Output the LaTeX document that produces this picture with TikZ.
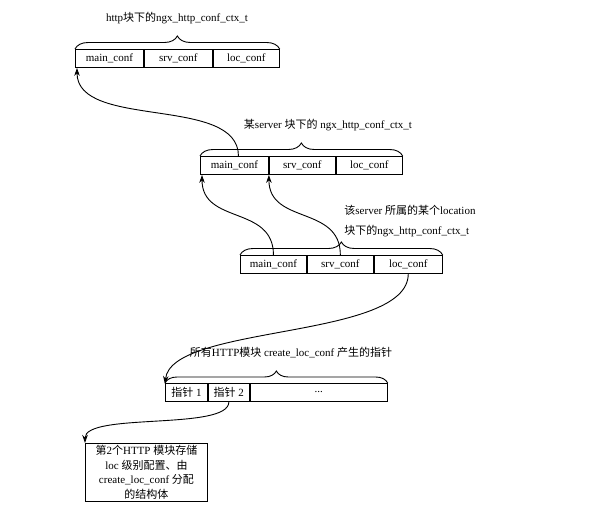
\documentclass[tikz,border=0pt]{standalone}
\usepackage{fontspec}
\setmainfont{Liberation Serif}
\newfontfamily\cjk{Noto Sans CJK SC}
\usetikzlibrary{
    arrows.meta,
    positioning,
    decorations.pathreplacing
}

\tikzset{
    cell/.style={draw, minimum height=18pt, inner sep=0pt, anchor=north west,
        font=\fontsize{11}{12}\selectfont},
    bracetop/.style={decorate, decoration={brace, amplitude=13pt}},
    ptr/.style={-{Stealth[length=8pt, width=5.5pt]}},
    lbl/.style={inner sep=1pt, font=\fontsize{11}{12}\selectfont}
}

\begin{document}
\begin{tikzpicture}[x=1pt, y=-1pt, line width=0.9pt]
    \useasboundingbox (0,0) rectangle (594,508);

    % http block
    \node[lbl] (httplbl) at (177,18) {http{\cjk 块下的}ngx\_http\_conf\_ctx\_t};
    \node[cell, minimum width=68pt] (hmain) at (75,49) {main\_conf};
    \node[cell, minimum width=68pt, right=0pt of hmain] (hsrv) {srv\_conf};
    \node[cell, minimum width=66pt, right=0pt of hsrv] (hloc) {loc\_conf};
    \draw[bracetop] (hmain.north west) -- (hloc.north east);

    % server block
    \node[lbl] (srvlbl) at (328,125) {{\cjk 某}server {\cjk 块下的} ngx\_http\_conf\_ctx\_t};
    \node[cell, minimum width=68pt] (smain) at (200,156) {main\_conf};
    \node[cell, minimum width=66pt, right=0pt of smain] (ssrv) {srv\_conf};
    \node[cell, minimum width=66pt, right=0pt of ssrv] (sloc) {loc\_conf};
    \draw[bracetop] (smain.north west) -- (sloc.north east);

    % location block
    \node[lbl, anchor=west, align=left, font=\fontsize{11}{20}\selectfont] (loclbl) at (343,221)
        {{\cjk 该}server {\cjk 所属的某个}location\\{\cjk 块下的}ngx\_http\_conf\_ctx\_t};
    \node[cell, minimum width=66pt] (rmain) at (240,255) {main\_conf};
    \node[cell, minimum width=66pt, right=0pt of rmain] (rsrv) {srv\_conf};
    \node[cell, minimum width=68pt, right=0pt of rsrv] (rloc) {loc\_conf};
    \draw[bracetop] (rmain.north west) -- (rloc.north east);

    % pointer array
    \node[lbl] (ptrlbl) at (291,353) {{\cjk 所有}HTTP{\cjk 模块} create\_loc\_conf {\cjk 产生的指针}};
    \node[cell, minimum width=42pt] (pone) at (165,383) {{\cjk 指针} 1};
    \node[cell, minimum width=41pt, right=0pt of pone] (ptwo) {{\cjk 指针} 2};
    \node[cell, minimum width=137pt, right=0pt of ptwo] (pdots) {...};
    \draw[bracetop, decoration={amplitude=12pt}] (pone.north west) -- (pdots.north east);

    \node[draw, minimum width=122pt, minimum height=58pt, anchor=north west, align=center,
        inner sep=1pt, font=\fontsize{11}{14.5}\selectfont] (note) at (85,443)
        {{\cjk 第}2{\cjk 个}HTTP {\cjk 模块存储}\\loc {\cjk 级别配置、由}\\create\_loc\_conf {\cjk 分配}\\{\cjk 的结构体}};

    % pointers
    \draw[ptr] ([xshift=4pt]smain.north) .. controls +(0,-61) and +(0,62) .. ([xshift=2pt]hmain.south west);
    \draw[ptr] (rmain.north) .. controls +(0,-50) and +(0,50) .. ([xshift=2pt]smain.south west);
    \draw[ptr] (rsrv.north) .. controls +(0,-50) and +(0,50) .. (ssrv.south west);
    \draw[ptr] (rloc.south) .. controls +(0,66) and +(6,-60) .. ([yshift=-1pt]pone.north west);
    \draw[ptr] (ptwo.south) .. controls +(0,29) and +(0,-31) .. (note.north west);
\end{tikzpicture}
\end{document}
